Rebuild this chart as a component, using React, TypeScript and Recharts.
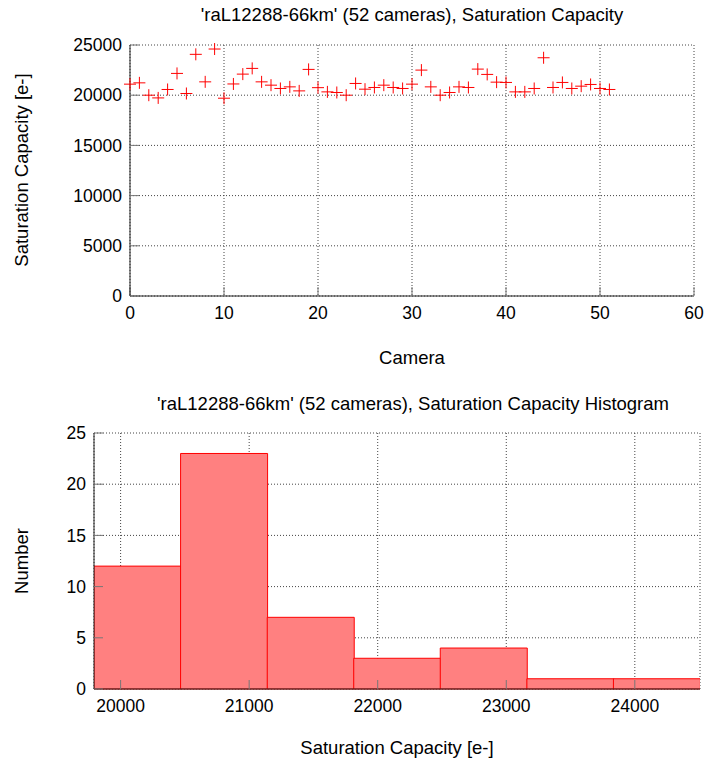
import React from 'react';
import {
  ScatterChart,
  Scatter,
  ComposedChart,
  Bar,
  XAxis,
  YAxis,
  CartesianGrid,
} from 'recharts';

// camera index and saturation capacity
const cameras = [
  0, 1, 2, 3, 4, 5, 6, 7, 8, 9, 10, 11, 12, 13, 14, 15, 16, 17, 18, 19, 20, 21, 22, 23, 24, 25,
  26, 27, 28, 29, 30, 31, 32, 33, 34, 35, 36, 37, 38, 39, 40, 41, 42, 43, 44, 45, 46, 47, 48, 49,
  50, 51,
];
const satCapacity = [
  21100, 21230, 20000, 19730, 20570, 22170, 20170, 24070, 21330, 24600, 19700, 21120, 22100,
  22670, 21330, 21000, 20670, 20830, 20430, 22570, 20750, 20330, 20270, 20000, 21170, 20600,
  20770, 21000, 20770, 20670, 21100, 22500, 20830, 20000, 20270, 20830, 20770, 22600, 22070,
  21300, 21270, 20330, 20330, 20670, 23730, 20770, 21270, 20670, 20900, 21070, 20670, 20570,
];

// histogram bins
const binCenters = [20130, 20803, 21477, 22150, 22823, 23497, 24170];
const binCounts = [12, 23, 7, 3, 4, 1, 1];
const histDomain = [19793, 24507];

// ticks
const cameraTicks = [0, 10, 20, 30, 40, 50, 60];
const capTicks = [0, 5000, 10000, 15000, 20000, 25000];
const histXTicks = [20000, 21000, 22000, 23000, 24000];
const histYTicks = [0, 5, 10, 15, 20, 25];

const scatterData = cameras.map((c, i) => ({ camera: c, cap: satCapacity[i] }));
const histData = binCenters.map((c, i) => ({ center: c, count: binCounts[i] }));

const FONT = '"Liberation Sans", Arial, sans-serif';
const tickStyle = { fontSize: 17.5, fill: '#000', fontFamily: FONT };
const AXIS = '#222';
const TICKLINE = '#777';

const PlusMark = (props: any) => {
  const { cx, cy } = props;
  return (
    <g stroke="#ff0000" strokeWidth={1}>
      <line x1={cx - 6} x2={cx + 6} y1={cy} y2={cy} />
      <line x1={cx} x2={cx} y1={cy - 6} y2={cy + 6} />
    </g>
  );
};

const Text = ({ x, y, rotate, children }: any) => (
  <div
    style={{
      position: 'absolute',
      left: x,
      top: y,
      transform: `translate(-50%, -50%)${rotate ? ' rotate(-90deg)' : ''}`,
      whiteSpace: 'nowrap',
      fontFamily: FONT,
      fontSize: 18.5,
      color: '#000',
    }}
  >
    {children}
  </div>
);

export default function App() {
  return (
    <div style={{ position: 'absolute', left: 0, top: 0, width: 707, height: 763, background: '#fff' }}>
      <div style={{ position: 'absolute', left: 0, top: 0 }}>
        <ScatterChart width={707} height={340} margin={{ top: 45, right: 13, bottom: 14, left: 70 }}>
          <CartesianGrid stroke="#444" strokeDasharray="1 2" />
          <XAxis
            type="number"
            dataKey="camera"
            domain={[0, 60]}
            ticks={cameraTicks}
            height={30}
            tick={tickStyle}
            tickSize={-9}
            tickMargin={20}
            axisLine={{ stroke: AXIS }}
            tickLine={{ stroke: TICKLINE }}
          />
          <XAxis
            xAxisId="top"
            orientation="top"
            type="number"
            domain={[0, 60]}
            ticks={cameraTicks}
            allowDataOverflow
            height={0}
            tick={false}
            tickSize={-9}
            axisLine={{ stroke: AXIS }}
            tickLine={{ stroke: TICKLINE }}
          />
          <YAxis
            type="number"
            dataKey="cap"
            domain={[0, 25000]}
            ticks={capTicks}
            width={60}
            tick={tickStyle}
            tickSize={-9}
            tickMargin={17}
            axisLine={{ stroke: AXIS }}
            tickLine={{ stroke: TICKLINE }}
          />
          <YAxis
            yAxisId="right"
            orientation="right"
            type="number"
            domain={[0, 25000]}
            ticks={capTicks}
            allowDataOverflow
            width={0}
            tick={false}
            tickSize={-9}
            axisLine={{ stroke: AXIS }}
            tickLine={{ stroke: TICKLINE }}
          />
          <Scatter data={scatterData} shape={PlusMark} isAnimationActive={false} />
        </ScatterChart>
      </div>

      <div style={{ position: 'absolute', left: 0, top: 380 }}>
        <ComposedChart
          width={707}
          height={383}
          data={histData}
          barCategoryGap={0}
          barGap={0}
          margin={{ top: 53, right: 7, bottom: 44, left: 34 }}
        >
          <CartesianGrid stroke="#444" strokeDasharray="1 2" />
          <XAxis
            type="number"
            dataKey="center"
            domain={histDomain}
            ticks={histXTicks}
            allowDataOverflow
            height={30}
            tick={tickStyle}
            tickSize={-9}
            tickMargin={20}
            axisLine={{ stroke: AXIS }}
            tickLine={{ stroke: TICKLINE }}
          />
          <XAxis
            xAxisId="top"
            orientation="top"
            type="number"
            domain={histDomain}
            ticks={histXTicks}
            allowDataOverflow
            height={0}
            tick={false}
            tickSize={-9}
            axisLine={{ stroke: AXIS }}
            tickLine={{ stroke: TICKLINE }}
          />
          <YAxis
            type="number"
            domain={[0, 25]}
            ticks={histYTicks}
            width={60}
            tick={tickStyle}
            tickSize={-9}
            tickMargin={17}
            axisLine={{ stroke: AXIS }}
            tickLine={{ stroke: TICKLINE }}
          />
          <YAxis
            yAxisId="right"
            orientation="right"
            type="number"
            domain={[0, 25]}
            ticks={histYTicks}
            allowDataOverflow
            width={0}
            tick={false}
            tickSize={-9}
            axisLine={{ stroke: AXIS }}
            tickLine={{ stroke: TICKLINE }}
          />
          <Bar dataKey="count" fill="#ff8080" stroke="#ff0000" strokeWidth={1} isAnimationActive={false} />
        </ComposedChart>
      </div>

      <Text x={412} y={15}>'raL12288-66km' (52 cameras), Saturation Capacity</Text>
      <Text x={22} y={170} rotate>
        Saturation Capacity [e-]
      </Text>
      <Text x={412} y={358}>Camera</Text>

      <Text x={413} y={404}>'raL12288-66km' (52 cameras), Saturation Capacity Histogram</Text>
      <Text x={22} y={561} rotate>
        Number
      </Text>
      <Text x={397} y={748}>Saturation Capacity [e-]</Text>
    </div>
  );
}
